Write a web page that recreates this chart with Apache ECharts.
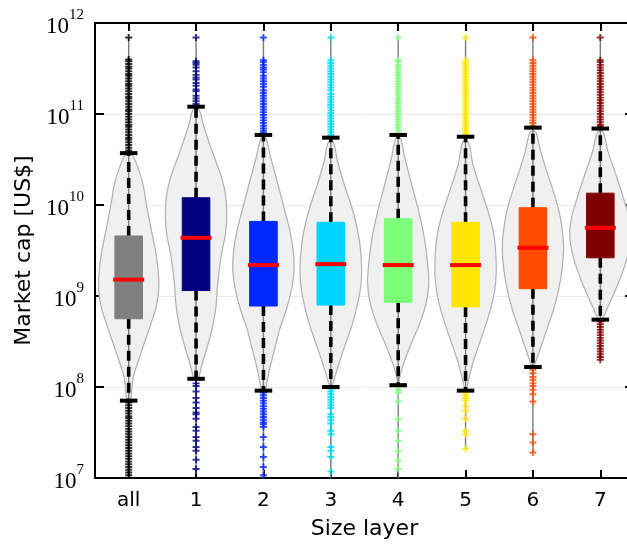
<!DOCTYPE html>
<html>
<head>
<meta charset="utf-8">
<script src="https://cdn.jsdelivr.net/npm/echarts@6/dist/echarts.min.js"></script>
<style>html,body{margin:0;padding:0;background:#fff;overflow:hidden;}#c{width:634px;height:545px;}</style>
</head>
<body>
<div id="c"></div>
<script>
// ---- data (all market-cap values are log10 of US$) ----
const categories = ['all', '1', '2', '3', '4', '5', '6', '7'];
const boxColors = ['#808080', '#000080', '#0028ff', '#00d4ff', '#7dff7a', '#ffe600', '#ff4a00', '#800000'];
const outlierColors = ['#000000', '#000080', '#0028ff', '#00d4ff', '#7dff7a', '#ffe600', '#ff4a00', '#800000'];

const whiskerLow  = [7.85, 8.09, 7.96, 8.00, 8.02, 7.96, 8.22, 8.74];
const quartile1   = [8.75, 9.06, 8.89, 8.90, 8.93, 8.88, 9.08, 9.42];
const medians     = [9.18, 9.64, 9.34, 9.35, 9.34, 9.34, 9.53, 9.75];
const quartile3   = [9.66, 10.08, 9.82, 9.81, 9.85, 9.81, 9.97, 10.13];
const whiskerHigh = [10.57, 11.08, 10.77, 10.74, 10.77, 10.75, 10.85, 10.84];
const dataMax     = [11.84, 11.84, 11.84, 11.84, 11.84, 11.84, 11.84, 11.84];
const dataMin     = [7.0, 7.05, 7.0, 7.0, 7.0, 7.32, 7.28, 8.30];

// violin outlines: [log10 value, half width in category widths]
const violinAll = [[10.55,0.05],[10.405,0.139],[10.225,0.213],[10.009,0.262],[9.72,0.337],[9.504,0.396],[9.287,0.436],[9.071,0.446],[8.89,0.411],[8.71,0.337],[8.494,0.238],[8.277,0.139],[8.097,0.064],[7.916,0.04],[7.844,0.02]];
const violin1 = [[11.055,0.04],[10.874,0.11],[10.586,0.24],[10.333,0.365],[10.117,0.436],[9.864,0.455],[9.684,0.436],[9.431,0.371],[9.143,0.322],[8.89,0.297],[8.674,0.248],[8.457,0.173],[8.277,0.099],[8.133,0.05],[8.079,0.025]];
const violin2 = [[10.73,0.035],[10.514,0.11],[10.297,0.19],[10.009,0.292],[9.72,0.391],[9.504,0.441],[9.287,0.455],[9.071,0.416],[8.854,0.342],[8.638,0.243],[8.421,0.168],[8.205,0.094],[8.025,0.045],[7.952,0.02]];
const violin3 = [[10.694,0.035],[10.478,0.1],[10.225,0.2],[9.937,0.327],[9.648,0.416],[9.359,0.455],[9.143,0.45],[8.926,0.401],[8.71,0.327],[8.494,0.228],[8.277,0.129],[8.097,0.054],[8.025,0.02]];
const violin4 = [[10.73,0.035],[10.514,0.1],[10.225,0.2],[9.937,0.302],[9.648,0.386],[9.359,0.436],[9.143,0.455],[8.926,0.416],[8.71,0.327],[8.494,0.203],[8.277,0.089],[8.133,0.03],[8.061,0.01]];
const violin5 = [[10.694,0.04],[10.442,0.11],[10.153,0.235],[9.864,0.361],[9.648,0.426],[9.359,0.455],[9.143,0.446],[8.926,0.396],[8.71,0.312],[8.494,0.213],[8.277,0.114],[8.097,0.05],[7.988,0.015]];
const violin6 = [[10.802,0.04],[10.586,0.115],[10.369,0.205],[10.081,0.332],[9.864,0.406],[9.648,0.446],[9.504,0.455],[9.287,0.431],[9.071,0.381],[8.854,0.307],[8.638,0.208],[8.421,0.109],[8.277,0.04],[8.223,0.01]];
const violin7 = [[10.802,0.04],[10.586,0.115],[10.369,0.215],[10.081,0.342],[9.864,0.426],[9.684,0.455],[9.504,0.426],[9.287,0.342],[9.071,0.228],[8.89,0.119],[8.764,0.045],[8.71,0.01]];

// outliers (log10 values)
const outliersAll = [11.84, 11.60, 11.58, 11.55, 11.52, 11.50, 11.47, 11.44, 11.42, 11.39, 11.36, 11.33, 11.31, 11.28, 11.25, 11.22, 11.19, 11.17, 11.14, 11.11, 11.08, 11.05, 11.03, 11.00, 10.97, 10.94, 10.91, 10.88, 10.86, 10.83, 10.80, 10.77, 10.74, 10.72, 10.69, 10.66, 10.63, 10.60,
  7.83, 7.80, 7.77, 7.74, 7.71, 7.68, 7.66, 7.63, 7.60, 7.57, 7.54, 7.51, 7.48, 7.45, 7.42, 7.39, 7.36, 7.33, 7.30, 7.27, 7.24, 7.21, 7.18, 7.15, 7.12, 7.09, 7.06, 7.03];
const outliers1 = [11.84, 11.58, 11.56, 11.54, 11.51, 11.47, 11.43, 11.40, 11.38, 11.34, 11.31, 11.27, 11.25, 11.20, 11.17, 11.14, 11.11,
  8.04, 8.01, 7.95, 7.88, 7.83, 7.77, 7.72, 7.70, 7.65, 7.56, 7.52, 7.45, 7.41, 7.34, 7.30, 7.20, 7.10];
const outliers2 = [11.84, 11.59, 11.57, 11.54, 11.51, 11.49, 11.46, 11.42, 11.39, 11.36, 11.33, 11.30, 11.26, 11.23, 11.20, 11.17, 11.14, 11.11, 11.08, 11.05, 11.02, 10.99, 10.96, 10.93, 10.90, 10.87, 10.84, 10.81, 10.79,
  7.94, 7.91, 7.88, 7.85, 7.82, 7.79, 7.76, 7.73, 7.70, 7.67, 7.64, 7.61, 7.59, 7.56, 7.45, 7.34, 7.23, 7.12, 7.03];
const outliers3 = [11.84, 11.59, 11.56, 11.53, 11.50, 11.47, 11.44, 11.41, 11.38, 11.35, 11.32, 11.29, 11.26, 11.22, 11.19, 11.16, 11.13, 11.10, 11.07, 11.04, 11.01, 10.98, 10.95, 10.92, 10.89, 10.86, 10.83, 10.80, 10.77,
  7.98, 7.95, 7.92, 7.89, 7.86, 7.83, 7.80, 7.77, 7.70, 7.67, 7.64, 7.60, 7.52, 7.48, 7.34, 7.30, 7.23, 7.07];
const outliers4 = [11.84, 11.59, 11.57, 11.54, 11.51, 11.48, 11.45, 11.42, 11.39, 11.36, 11.33, 11.30, 11.27, 11.24, 11.21, 11.18, 11.15, 11.12, 11.09, 11.06, 11.03, 11.00, 10.97, 10.94, 10.91, 10.88, 10.85, 10.82, 10.79,
  8.00, 7.97, 7.94, 7.84, 7.65, 7.52, 7.41, 7.30, 7.19, 7.10];
const outliers5 = [11.84, 11.59, 11.56, 11.53, 11.50, 11.47, 11.44, 11.41, 11.38, 11.35, 11.32, 11.29, 11.26, 11.23, 11.20, 11.17, 11.14, 11.11, 11.08, 11.05, 11.02, 10.99, 10.96, 10.93, 10.90, 10.87, 10.84, 10.81, 10.78,
  7.94, 7.91, 7.88, 7.85, 7.79, 7.74, 7.65, 7.52, 7.48, 7.32];
const outliers6 = [11.84, 11.59, 11.56, 11.53, 11.50, 11.47, 11.44, 11.41, 11.38, 11.35, 11.32, 11.29, 11.26, 11.23, 11.20, 11.17, 11.14, 11.11, 11.08, 11.05, 11.02, 10.99, 10.96, 10.93, 10.90, 10.87,
  8.19, 8.15, 8.11, 8.08, 8.04, 8.01, 7.97, 7.92, 7.84, 7.48, 7.39, 7.28];
const outliers7 = [11.84, 11.59, 11.57, 11.54, 11.51, 11.48, 11.45, 11.42, 11.39, 11.36, 11.33, 11.30, 11.27, 11.24, 11.21, 11.18, 11.15, 11.12, 11.09, 11.06, 11.03, 11.00, 10.97, 10.94, 10.91, 10.88, 10.86,
  8.72, 8.69, 8.66, 8.63, 8.60, 8.57, 8.54, 8.51, 8.48, 8.45, 8.42, 8.39, 8.36, 8.33, 8.30];

const yTickExponents = [7, 8, 9, 10, 11, 12];

// ---- build ----
const violins = [violinAll, violin1, violin2, violin3, violin4, violin5, violin6, violin7];
const outliers = [outliersAll, outliers1, outliers2, outliers3, outliers4, outliers5, outliers6, outliers7];
const toUSD = e => Math.pow(10, e);

const BOX_W = 0.41, MED_W = 0.46, CAP_W = 0.26;

function renderBody(params, api) {
  const i = params.dataIndex;
  const bw = api.size([1, 0])[0];
  const cx = api.coord([i, toUSD(medians[i])])[0];
  const Y = e => api.coord([i, toUSD(e)])[1];
  const prof = violins[i];
  const pts = [];
  prof.forEach(p => pts.push([cx + p[1] * bw, Y(p[0])]));
  for (let k = prof.length - 1; k >= 0; k--) pts.push([cx - prof[k][1] * bw, Y(prof[k][0])]);
  const yq1 = Y(quartile1[i]), yq3 = Y(quartile3[i]);
  return {
    type: 'group',
    children: [
      { type: 'polygon', shape: { points: pts, smooth: 0.35 },
        style: { fill: '#f0f0f0', stroke: '#b0b0b0', lineWidth: 1.2 } },
      { type: 'line', shape: { x1: cx, y1: Y(dataMax[i]), x2: cx, y2: Y(dataMin[i]) },
        style: { stroke: '#7a7a7a', lineWidth: 1.4 } },
      { type: 'line', shape: { x1: cx, y1: yq3, x2: cx, y2: Y(whiskerHigh[i]) },
        style: { stroke: '#000', lineWidth: 3.6, lineDash: [10, 6] } },
      { type: 'line', shape: { x1: cx, y1: yq1, x2: cx, y2: Y(whiskerLow[i]) },
        style: { stroke: '#000', lineWidth: 3.6, lineDash: [10, 6] } },
      { type: 'rect', shape: { x: cx - BOX_W / 2 * bw, y: yq3, width: BOX_W * bw, height: yq1 - yq3 },
        style: { fill: boxColors[i], stroke: boxColors[i], lineWidth: 1, opacity: 1 } },
      { type: 'line', shape: { x1: cx - MED_W / 2 * bw, y1: Y(medians[i]), x2: cx + MED_W / 2 * bw, y2: Y(medians[i]) },
        style: { stroke: '#ff0000', lineWidth: 4 } }
    ]
  };
}

function renderCaps(params, api) {
  const i = params.dataIndex;
  const bw = api.size([1, 0])[0];
  const cx = api.coord([i, toUSD(medians[i])])[0];
  const Y = e => api.coord([i, toUSD(e)])[1];
  const hw = CAP_W / 2 * bw;
  return {
    type: 'group',
    children: [
      { type: 'line', shape: { x1: cx - hw, y1: Y(whiskerHigh[i]), x2: cx + hw, y2: Y(whiskerHigh[i]) },
        style: { stroke: '#000', lineWidth: 4 } },
      { type: 'line', shape: { x1: cx - hw, y1: Y(whiskerLow[i]), x2: cx + hw, y2: Y(whiskerLow[i]) },
        style: { stroke: '#000', lineWidth: 4 } }
    ]
  };
}

const scatterData = [];
outliers.forEach((arr, i) => arr.forEach(e => scatterData.push({ value: [i, toUSD(e)], itemStyle: { color: outlierColors[i] } })));

const catData = categories.map((c, i) => [i, toUSD(medians[i])]);
const plus = 'path://M3.6,0H6.4V3.6H10V6.4H6.4V10H3.6V6.4H0V3.6H3.6Z';

const axisLineStyle = { color: '#000', width: 2 };
const tickStyle = { color: '#000', width: 2 };

const option = {
  animation: false,
  backgroundColor: '#fff',
  grid: { left: 95, top: 23, right: 0, bottom: 60 },
  xAxis: [
    { type: 'category', data: categories, position: 'bottom', boundaryGap: true,
      axisLine: { show: true, lineStyle: axisLineStyle },
      axisTick: { show: true, inside: true, length: 8, alignWithLabel: true, lineStyle: tickStyle },
      axisLabel: { color: '#000', fontSize: 20, fontFamily: 'DejaVu Sans', margin: 13 },
      splitLine: { show: false },
      name: 'Size layer', nameLocation: 'middle', nameGap: 40,
      nameTextStyle: { color: '#000', fontSize: 22, fontFamily: 'DejaVu Sans' } },
    { type: 'category', data: categories, position: 'top', boundaryGap: true,
      axisLine: { show: true, lineStyle: axisLineStyle },
      axisTick: { show: true, inside: true, length: 8, alignWithLabel: true, lineStyle: tickStyle },
      axisLabel: { show: false }, splitLine: { show: false } }
  ],
  yAxis: [
    { type: 'log', logBase: 10, min: toUSD(yTickExponents[0]), max: toUSD(yTickExponents[yTickExponents.length - 1]),
      position: 'left',
      axisLine: { show: true, lineStyle: axisLineStyle },
      axisTick: { show: true, inside: true, length: 9, lineStyle: tickStyle },
      splitLine: { show: true, lineStyle: { color: '#ebebeb', width: 1 } },
      axisLabel: {
        margin: 11,
        formatter: v => '{b|10}{s|' + Math.round(Math.log10(v)) + '}',
        rich: {
          b: { fontFamily: 'Liberation Serif', fontSize: 23, color: '#000', lineHeight: 30, verticalAlign: 'bottom' },
          s: { fontFamily: 'Liberation Serif', fontSize: 15, color: '#000', lineHeight: 14, verticalAlign: 'top' }
        }
      },
      name: 'Market cap [US$]', nameLocation: 'middle', nameGap: 58,
      nameTextStyle: { color: '#000', fontSize: 22, fontFamily: 'DejaVu Sans' } },
    { type: 'log', logBase: 10, min: toUSD(yTickExponents[0]), max: toUSD(yTickExponents[yTickExponents.length - 1]),
      position: 'right',
      axisLine: { show: true, lineStyle: axisLineStyle },
      axisTick: { show: true, inside: true, length: 9, lineStyle: tickStyle },
      axisLabel: { show: false }, splitLine: { show: false } }
  ],
  series: [
    { type: 'custom', name: 'body', renderItem: renderBody, data: catData, encode: { x: 0, y: 1 }, z: 2, silent: true },
    { type: 'scatter', name: 'outliers', data: scatterData, symbol: plus, symbolSize: 7, z: 3, silent: true },
    { type: 'custom', name: 'caps', renderItem: renderCaps, data: catData, encode: { x: 0, y: 1 }, z: 4, silent: true }
  ]
};

const chart = echarts.init(document.getElementById('c'), null, { renderer: 'canvas' });
chart.setOption(option);
</script>
</body>
</html>
